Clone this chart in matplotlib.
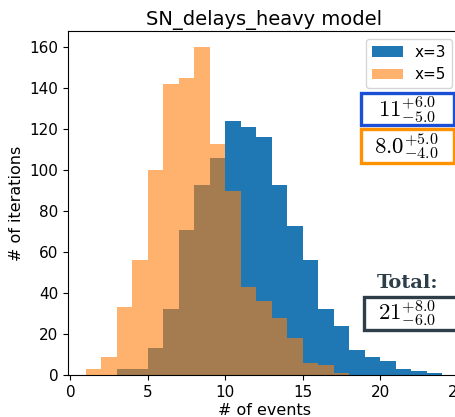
import numpy as np
import matplotlib
matplotlib.use('Agg')
import matplotlib.pyplot as plt
from matplotlib.patches import Rectangle

plt.rcParams['mathtext.fontset'] = 'cm'

# histogram counts per unit bin (value = bin left edge)
bins_x3 = np.arange(3, 24)
counts_x3 = [3, 3, 13, 32, 71, 93, 106, 124, 121, 116, 93, 73, 56, 32, 24, 12, 9, 7, 3, 2, 1]
bins_x5 = np.arange(1, 18)
counts_x5 = [3, 9, 33, 56, 100, 142, 145, 160, 113, 90, 43, 36, 28, 18, 6, 5, 1]

labels = ['x=3', 'x=5']
res_x3 = r'$11^{+6.0}_{-5.0}$'
res_x5 = r'$8.0^{+5.0}_{-4.0}$'
res_tot = r'$21^{+8.0}_{-6.0}$'

fig = plt.figure(figsize=(4.55, 4.17), dpi=100)
ax = fig.add_axes([0.1495, 0.1007, 0.8615, 0.825])

ax.hist(bins_x3, bins=np.arange(3, 25), weights=counts_x3, color='#1f77b4', label=labels[0])
ax.hist(bins_x5, bins=np.arange(1, 19), weights=counts_x5, color='#ff7f0e', alpha=0.6, label=labels[1])

ax.set_title('SN_delays_heavy model', fontsize=14, pad=4)
ax.set_xlabel('# of events', fontsize=11.5, labelpad=2)
ax.set_ylabel('# of iterations', fontsize=11.5)
ax.tick_params(labelsize=11)
ax.set_xticks([0, 5, 10, 15, 20, 25])
ax.legend(loc='upper right', fontsize=11)

# result boxes
for (txt, ec, y0, h) in [(res_x3, '#1a4fd6', 0.700, 0.077), (res_x5, '#ff9100', 0.609, 0.081)]:
    fig.patches.append(Rectangle((0.7935, y0), 0.205, h, transform=fig.transFigure,
                                 fill=True, facecolor='white', edgecolor=ec, lw=2.4, zorder=5))
    fig.text(0.894, y0 + h / 2, txt, ha='center', va='center', fontsize=16.5, zorder=6)

fig.text(0.895, 0.322, 'Total:', ha='center', va='center', fontsize=14, fontweight='bold',
         family='DejaVu Serif', color='#2d3e48', zorder=6)
fig.patches.append(Rectangle((0.799, 0.209), 0.21, 0.079, transform=fig.transFigure,
                             fill=True, facecolor='white', edgecolor='#2d3e48', lw=2.4, zorder=5))
fig.text(0.894, 0.2485, res_tot, ha='center', va='center', fontsize=16.5, zorder=6)

fig.savefig('out.png', dpi=100)
